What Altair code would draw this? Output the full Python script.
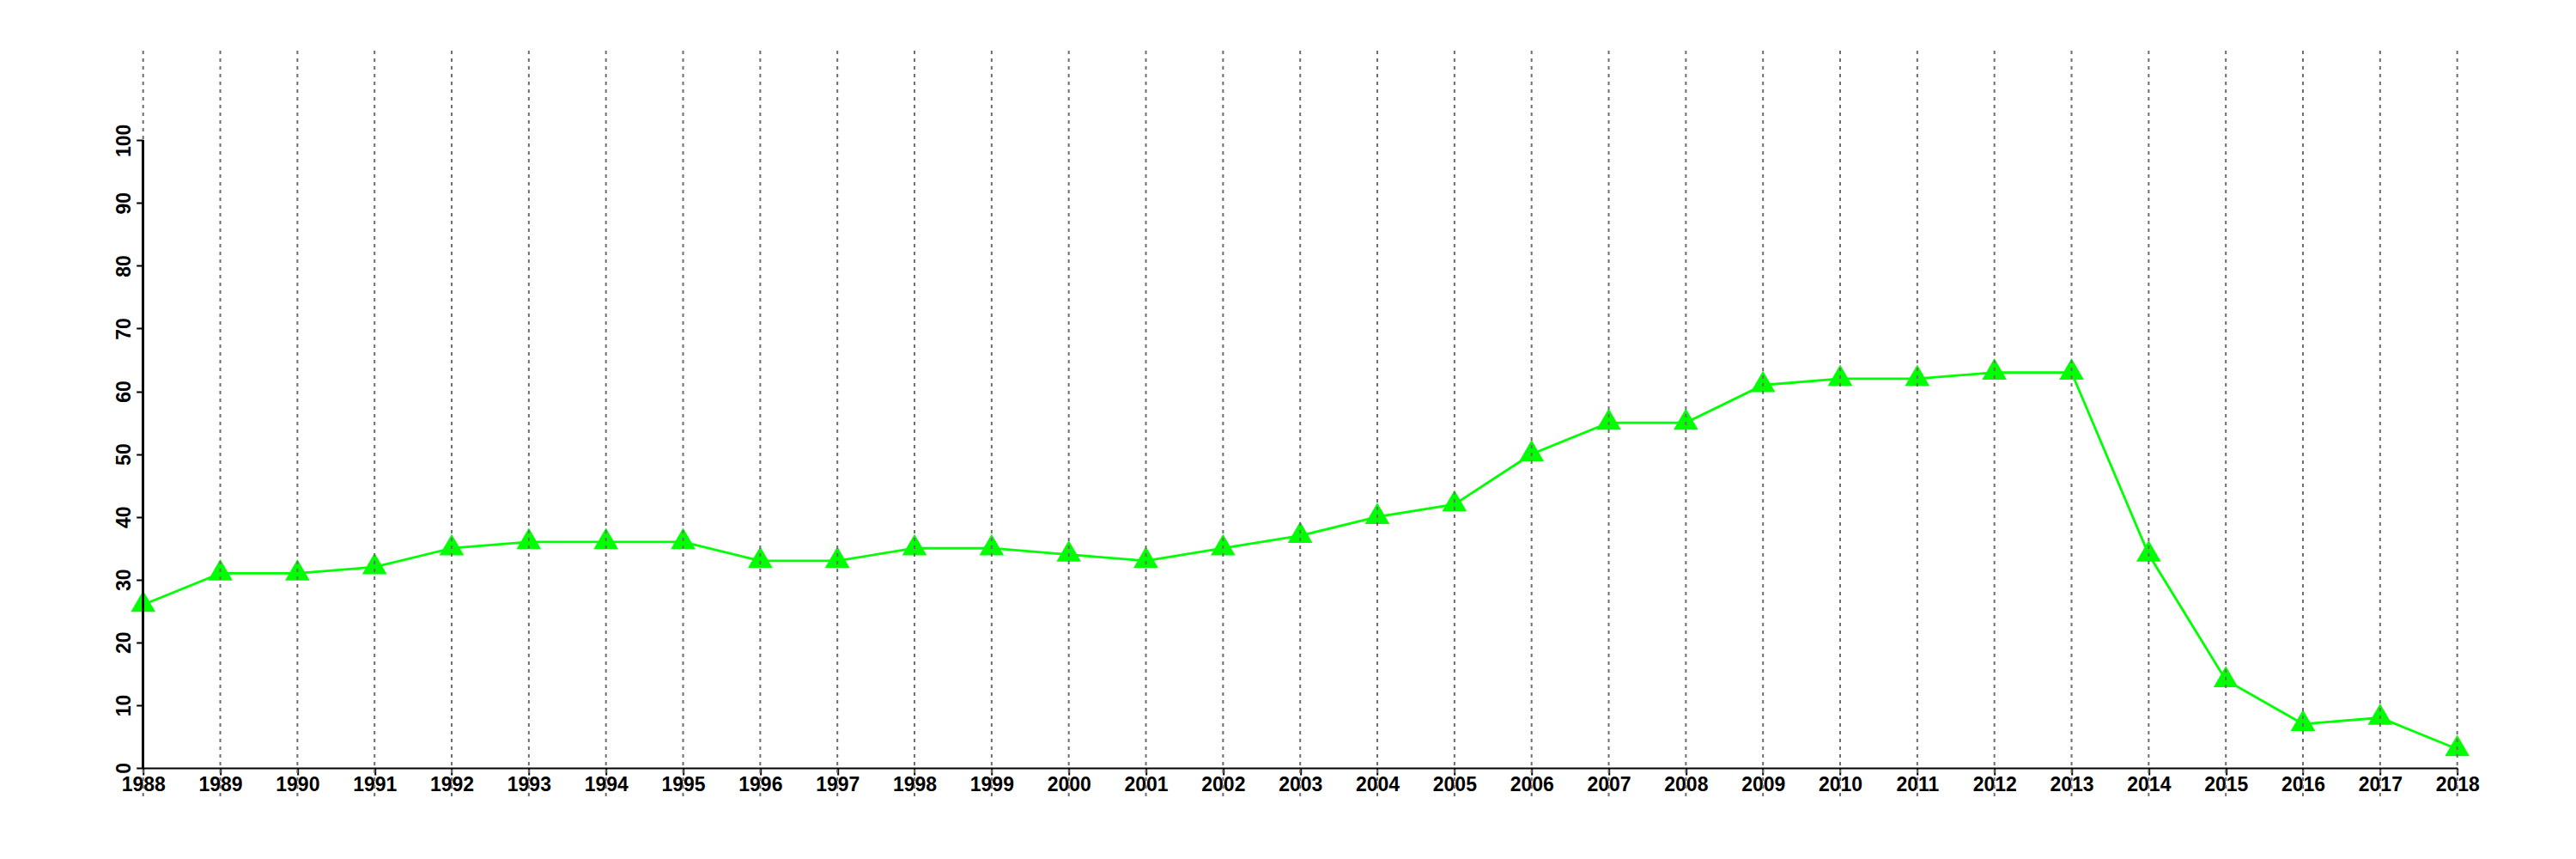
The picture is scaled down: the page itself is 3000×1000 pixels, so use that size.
import altair as alt
import pandas as pd

YEARS = list(range(1988, 2019))
VALUES = [26, 31, 31, 32, 35, 36, 36, 36, 33, 33, 35, 35, 34, 33, 35, 37,
          40, 42, 50, 55, 55, 61, 62, 62, 63, 63, 34, 14, 7, 8, 3]
Y_TICKS = list(range(0, 101, 10))
Y_DOMAIN = [-4.52, 114.27]

df = pd.DataFrame({"year": YEARS, "value": VALUES})
grid_df = pd.DataFrame({"year": YEARS})

FONT = "Liberation Sans"
GREEN = "#00ff00"

x_scale = alt.Scale(domain=[YEARS[0], YEARS[-1]], nice=False, zero=False)
y_scale = alt.Scale(domain=Y_DOMAIN, nice=False, zero=False)

x_axis = alt.Axis(
    title=None, values=YEARS, format="d", grid=False,
    labelFont=FONT, labelFontWeight="bold", labelFontSize=23, labelColor="black",
    labelPadding=1, labelOverlap=False, labelFlush=False, labelBound=False,
    tickSize=8, tickWidth=2, tickColor="black",
    domain=True, domainColor="black", domainWidth=2,
    offset=-33,
)
y_axis = alt.Axis(
    title=None, values=Y_TICKS, grid=False,
    labelFont=FONT, labelFontWeight="bold", labelFontSize=23, labelColor="black",
    labelAngle=270, labelAlign="center", labelBaseline="alphabetic",
    labelPadding=7.5, labelOverlap=False, labelFlush=False, labelBound=False,
    tickSize=8, tickWidth=2, tickColor="black",
    domain=False,
)

base = alt.Chart(df)

line = base.mark_line(color=GREEN, strokeWidth=2.8).encode(
    x=alt.X("year:Q", scale=x_scale, axis=x_axis),
    y=alt.Y("value:Q", scale=y_scale, axis=y_axis),
)

points = base.mark_point(
    shape="M0,-1.1547L-1,0.5774L1,0.5774Z", size=820, filled=True,
    color=GREEN, opacity=1, strokeWidth=0,
).encode(
    x=alt.X("year:Q", scale=x_scale),
    y=alt.Y("value:Q", scale=y_scale),
)

grid = alt.Chart(grid_df).mark_rule(
    color="#6e6e6e", strokeWidth=2, strokeDash=[4, 5]
).encode(x=alt.X("year:Q", scale=x_scale))

y_line = alt.Chart(grid_df).mark_rule(color="black", strokeWidth=2).encode(
    x=alt.datum(YEARS[0]),
    y=alt.datum(Y_TICKS[0]),
    y2=alt.datum(Y_TICKS[-1]),
)

chart = alt.layer(line, points, grid, y_line).properties(
    width=2695,
    height=868,
    autosize=alt.AutoSizeParams(type="none"),
    padding={"left": 158.7, "top": 51, "right": 130, "bottom": 65},
    background="white",
).configure_view(strokeWidth=0)

chart.save("out.html", embed_options={"renderer": "svg", "actions": False})
